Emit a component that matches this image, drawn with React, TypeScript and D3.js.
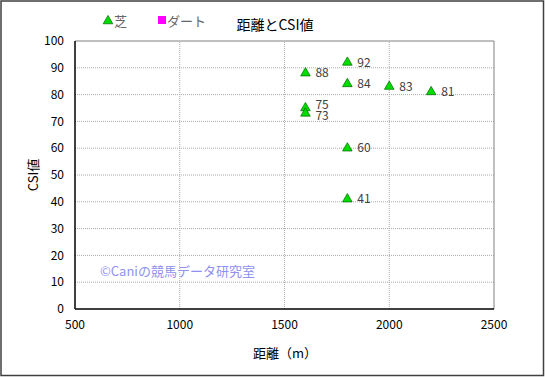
import React from "react";
import * as d3 from "d3";

const distances = [1600, 1600, 1600, 1800, 1800, 1800, 1800, 2000, 2200];
const csiValues = [88, 75, 73, 92, 84, 60, 41, 83, 81];
const xTicks = [500, 1000, 1500, 2000, 2500];
const yTicks = [0, 10, 20, 30, 40, 50, 60, 70, 80, 90, 100];
const legendLabels = ["芝", "ダート"];

const W = 545;
const H = 377;
const FONT = "'Noto Sans CJK JP', 'DejaVu Sans', sans-serif";

export default function App() {
  const x = d3.scaleLinear().domain([500, 2500]).range([75, 494]);
  const y = d3.scaleLinear().domain([0, 100]).range([309, 41]);
  const tri = d3.symbol().type(d3.symbolTriangle).size(40);

  // small label nudges where labels collide (as in the reference)
  const labelShift = (v: number) => (v === 75 ? -3 : v === 73 ? 2 : 0);

  return (
    <svg width={W} height={H} style={{ position: "absolute", left: 0, top: 0 }} fontFamily={FONT}>
      <rect x={0} y={0} width={W} height={H} fill="#fff" />
      <rect x={1} y={1} width={W - 2.5} height={H - 2.5} fill="none" stroke="#404040" strokeWidth={1.5} />
      {yTicks.slice(1, -1).map((t) => (
        <line key={"gy" + t} x1={x(500)} x2={x(2500)} y1={y(t)} y2={y(t)} stroke="#aaa" strokeWidth={1} strokeDasharray="1,1" />
      ))}
      {xTicks.slice(1, -1).map((t) => (
        <line key={"gx" + t} x1={x(t)} x2={x(t)} y1={y(0)} y2={y(100)} stroke="#aaa" strokeWidth={1} strokeDasharray="1,1" />
      ))}
      <line x1={x(500)} x2={x(2500)} y1={y(100)} y2={y(100)} stroke="#808080" strokeWidth={1} />
      <line x1={x(2500)} x2={x(2500)} y1={y(100)} y2={y(0)} stroke="#808080" strokeWidth={1} />
      <line x1={x(500)} x2={x(500)} y1={y(100)} y2={y(0)} stroke="#000" strokeWidth={1.5} />
      <line x1={x(500)} x2={x(2500)} y1={y(0)} y2={y(0)} stroke="#000" strokeWidth={1.5} />
      {yTicks.map((t) => (
        <text key={"ty" + t} x={64} y={y(t)} dy="0.35em" textAnchor="end" fontSize={12} fill="#000">{t}</text>
      ))}
      {xTicks.map((t) => (
        <text key={"tx" + t} x={x(t)} y={325} dy="0.35em" textAnchor="middle" fontSize={12} fill="#000">{t}</text>
      ))}
      <text x={285} y={353} dy="0.35em" textAnchor="middle" fontSize={13} fill="#000">距離（m）</text>
      <text transform={`translate(33,${175}) rotate(-90)`} dy="0.35em" textAnchor="middle" fontSize={13} fill="#000">CSI値</text>
      <text x={275} y={25} dy="0.35em" textAnchor="middle" fontSize={14} fill="#000">距離とCSI値</text>
      <path d={tri() as string} transform="translate(108,21)" fill="#00dd00" stroke="#006600" strokeWidth={0.7} />
      <text x={114} y={21} dy="0.35em" fontSize={13} fill="#666">{legendLabels[0]}</text>
      <rect x={158} y={16} width={8} height={8} fill="#ff00ff" />
      <text x={167} y={21} dy="0.35em" fontSize={13} fill="#666">{legendLabels[1]}</text>
      <text x={100} y={271} dy="0.35em" fontSize={13} fill="#9090f0">©Caniの競馬データ研究室</text>
      {distances.map((d, i) => (
        <g key={"p" + i}>
          <path d={tri() as string} transform={`translate(${x(d)},${y(csiValues[i])})`} fill="#00dd00" stroke="#006600" strokeWidth={0.7} />
          <text x={x(d) + 10} y={y(csiValues[i]) + labelShift(csiValues[i])} dy="0.35em" fontSize={12} fill="#404040">{csiValues[i]}</text>
        </g>
      ))}
    </svg>
  );
}
